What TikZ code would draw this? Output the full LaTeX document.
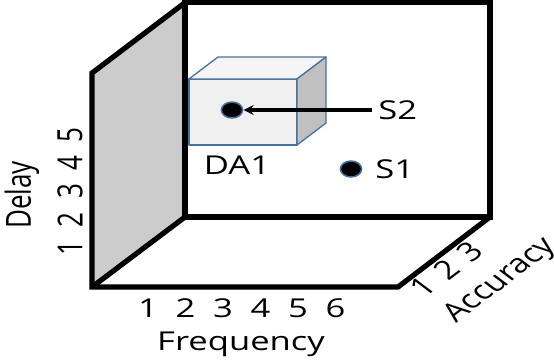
\documentclass[tikz,border=0pt]{standalone}
\usepackage{fontspec}
\setmainfont{Open Sans}
\usetikzlibrary{arrows.meta}
\definecolor{cubeedge}{RGB}{72,112,160}
\definecolor{wallgray}{RGB}{204,204,204}
\definecolor{facefront}{RGB}{240,240,240}
\definecolor{facetop}{RGB}{245,245,245}
\definecolor{faceside}{RGB}{192,192,192}
\begin{document}
\begin{tikzpicture}[x=1pt,y=-1pt,
	lbl/.style={font=\fontsize{26}{30}\selectfont,xscale=1.33,inner sep=0pt},
	frame/.style={line width=5.2pt,line join=miter},
	face/.style={draw=cubeedge,line width=1.3pt,line join=round},
	dot/.style={circle,fill=black,draw=cubeedge,line width=1.5pt,minimum size=16pt,inner sep=0pt,xscale=1.33}]
	\useasboundingbox (0,0) rectangle (554,362);
	\fill[wallgray] (185,2.6) -- (92,73) -- (92,287) -- (185,217) -- cycle;
	\draw[frame] (185,2.6) rectangle (490,217);
	\draw[frame] (185,2.6) -- (92,73) -- (92,287) -- (398,287) -- (490,217);
	\draw[frame] (92,287) -- (185,217);
	\draw[face,fill=facefront] (189,79) rectangle (297,145);
	\draw[face,fill=facetop] (189,79) -- (218,57) -- (326,57) -- (297,79) -- cycle;
	\draw[face,fill=faceside] (297,79) -- (326,57) -- (326,123) -- (297,145) -- cycle;
	\node[dot] (da1dot) at (232,110) {};
	\node[dot] (s1dot) at (351,169) {};
	\node[lbl] (da1) at (237,165) {DA1};
	\node[lbl,anchor=west] (s2) at (378,110) {S2};
	\node[lbl,anchor=west] (s1) at (375,169) {S1};
	\coordinate (s2tail) at ([xshift=-6pt]s2.west);
	\draw[line width=3.2pt,-{Stealth[length=10pt,width=10pt]}] (s2tail) -- (da1dot.east);
	\foreach \n in {1,...,6}
		\node[lbl] (f\n) at ({110.5+37.5*\n},308) {\n};
	\node[lbl,anchor=base] (freq) at (241,350) {Frequency};
	\foreach \n in {1,...,5}
		\node[lbl,rotate=90] (d\n) at (70,{276.25-28.25*\n}) {\n};
	\node[lbl,rotate=90] (delay) at (22,195) {Delay};
	\foreach \n in {1,...,3}
		\node[lbl,rotate=45] (a\n) at ({399.5+23.5*\n},{304.5-17.5*\n}) {\n};
	\node[lbl,rotate=45] (acc) at (501,281) {Accuracy};
\end{tikzpicture}
\end{document}
